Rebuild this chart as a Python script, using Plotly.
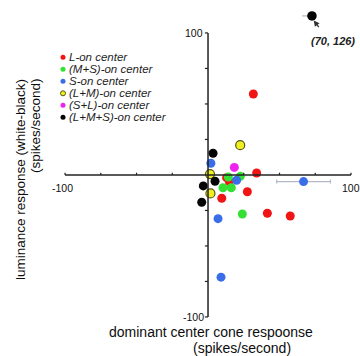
import plotly.graph_objects as go

# ---- data ----
categories = ["L-on center", "(M+S)-on center", "S-on center",
              "(L+M)-on center", "(S+L)-on center", "(L+M+S)-on center"]
colors = ["#f01414", "#33e033", "#3a6ee8", "#f0f020", "#ee22ee", "#050505"]
outlines = [None, None, None, "#55551a", None, None]

l_on_x = [31.7, 34.0, 13.0, 14.9, 27.5, 9.6, 41.5, 57.5]
l_on_y = [57.0, 1.4, -1.9, -4.7, -11.8, -16.4, -27.0, -28.9]
ms_on_x = [14.2, 22.6, 10.5, 16.3, 24.0]
ms_on_y = [-1.5, -1.0, -9.0, -9.0, -27.5]
s_on_x = [2.0, 20.0, 66.8, 7.0, 9.1]
s_on_y = [8.2, -3.7, -4.7, -30.8, -72.0]
s_on_xerr = [0, 0, 18.8, 0, 0]
lm_on_x = [22.5, 1.4, 1.7]
lm_on_y = [21.0, 0.6, -13.0]
sl_on_x = [18.4]
sl_on_y = [5.3]
lms_on_x = [3.5, 4.9, -3.3, -4.4]
lms_on_y = [15.3, -4.4, -7.7, -19.2]

outlier_value = (70, 126)          # true value, shown by label
outlier_shown = (72.7, 112.0)      # where it is drawn (axis break)
outlier_xerr_minus = 7.0

axis_ticks = [-100, -75, -50, -25, 25, 50, 75, 100]
axis_labels = {"x": ["-100", "100"], "y": ["100", "-100"]}

series = [
    (l_on_x, l_on_y, None),
    (ms_on_x, ms_on_y, None),
    (s_on_x, s_on_y, s_on_xerr),
    (lm_on_x, lm_on_y, None),
    (sl_on_x, sl_on_y, None),
    (lms_on_x, lms_on_y, None),
]

FONT = "Liberation Sans, Arial, sans-serif"
AX = "#222222"

fig = go.Figure()

for i, (xs, ys, xerr) in enumerate(series):
    ol = outlines[i]
    kw = {}
    if xerr is not None:
        kw["error_x"] = dict(type="data", array=xerr, visible=True,
                             color="#b4b8c8", thickness=1.2, width=2)
    fig.add_trace(go.Scatter(
        x=xs, y=ys, mode="markers", showlegend=False, cliponaxis=False,
        marker=dict(size=9, color=colors[i],
                    line=dict(width=1.2 if ol else 0, color=ol or colors[i])),
        **kw))

# outlier (drawn above the axis break)
fig.add_trace(go.Scatter(
    x=[outlier_shown[0]], y=[outlier_shown[1]], mode="markers",
    showlegend=False, cliponaxis=False,
    marker=dict(size=9.5, color=colors[5], line=dict(width=0)),
    error_x=dict(type="data", symmetric=False, array=[0],
                 arrayminus=[outlier_xerr_minus], color="#b4b8c8",
                 thickness=1.2, width=0)))

# custom compact legend on an overlay axis in pixel units
leg_x0, leg_y0, leg_dy = 63, 57.3, 12.0
leg_y = [leg_y0 + k * leg_dy for k in range(len(categories))]
for i, cat in enumerate(categories):
    ol = outlines[i]
    fig.add_trace(go.Scatter(
        x=[leg_x0], y=[leg_y[i]], xaxis="x2", yaxis="y2", mode="markers",
        showlegend=False, cliponaxis=False,
        marker=dict(size=5, color=colors[i],
                    line=dict(width=1 if ol else 0, color=ol or colors[i]))))
    fig.add_annotation(x=leg_x0 + 4, y=leg_y[i], xref="x2", yref="y2",
                       text=cat, showarrow=False, xanchor="left",
                       yanchor="middle",
                       font=dict(family=FONT, size=11.5, color="#1e1e1e",
                                 style="italic"))

# axes drawn through the origin
shapes = [
    dict(type="line", xref="x", yref="y", x0=-100, x1=100, y0=0, y1=0,
         line=dict(color=AX, width=1.5)),
    dict(type="line", xref="x", yref="y", x0=0, x1=0, y0=-100, y1=100,
         line=dict(color=AX, width=1.5)),
]
for t in axis_ticks:
    shapes.append(dict(type="line", xref="x", yref="y", x0=t, x1=t,
                       y0=0, y1=1.6, line=dict(color=AX, width=1.2)))
    shapes.append(dict(type="line", xref="x", yref="y", x0=0, x1=-2.2,
                       y0=t, y1=t, line=dict(color=AX, width=1.2)))
fig.update_layout(shapes=shapes)

tick_font = dict(family=FONT, size=10.5, color="#111111")
fig.add_annotation(x=-100, y=0, xref="x", yref="y", text=axis_labels["x"][0],
                   showarrow=False, xanchor="center", yanchor="top",
                   xshift=-3, yshift=-5, font=tick_font)
fig.add_annotation(x=100, y=0, xref="x", yref="y", text=axis_labels["x"][1],
                   showarrow=False, xanchor="center", yanchor="top",
                   xshift=0, yshift=-5, font=tick_font)
fig.add_annotation(x=0, y=100, xref="x", yref="y", text=axis_labels["y"][0],
                   showarrow=False, xanchor="right", yanchor="middle",
                   xshift=-3, font=tick_font)
fig.add_annotation(x=0, y=-100, xref="x", yref="y", text=axis_labels["y"][1],
                   showarrow=False, xanchor="right", yanchor="middle",
                   xshift=-2, font=tick_font)

# outlier label + arrow
fig.add_annotation(x=outlier_shown[0] + 15, y=outlier_shown[1] - 18,
                   xref="x", yref="y",
                   text="(%d, %d)" % outlier_value, showarrow=False,
                   font=dict(family=FONT, size=11, color="#222222",
                             style="italic", weight="bold"))
fig.add_annotation(x=outlier_shown[0] + 1.2, y=outlier_shown[1] - 3.2,
                   ax=outlier_shown[0] + 5.6, ay=outlier_shown[1] - 9.0,
                   xref="x", yref="y", axref="x", ayref="y", text="",
                   showarrow=True, arrowhead=2, arrowsize=0.9,
                   arrowwidth=1.3, arrowcolor="#333333")

# axis titles
title_font = dict(family=FONT, size=14, color="#0d0d0d")
fig.add_annotation(x=211, y=332, xref="x2", yref="y2",
                   text="dominant center cone respoonse", showarrow=False,
                   font=title_font, borderpad=0)
fig.add_annotation(x=242, y=347.5, xref="x2", yref="y2",
                   text="(spikes/second)", showarrow=False, font=title_font,
                   borderpad=0)
ytitle_font = dict(family=FONT, size=13.5, color="#0d0d0d")
fig.add_annotation(x=20, y=180, xref="x2", yref="y2",
                   text="luminance response (white-black)", showarrow=False,
                   textangle=-90, font=ytitle_font, borderpad=0)
fig.add_annotation(x=35, y=126, xref="x2", yref="y2",
                   text="(spikes/second)", showarrow=False,
                   textangle=-90, font=ytitle_font, borderpad=0)

hidden = dict(visible=False, showgrid=False, zeroline=False, fixedrange=True)
fig.update_layout(
    width=360, height=356,
    margin=dict(l=0, r=0, t=0, b=0),
    paper_bgcolor="white", plot_bgcolor="white",
    xaxis=dict(range=[-145.5, 106.3], domain=[0, 1], **hidden),
    yaxis=dict(range=[-127.5, 123.2], domain=[0, 1], **hidden),
    xaxis2=dict(range=[0, 360], overlaying="x", anchor="y2", **hidden),
    yaxis2=dict(range=[356, 0], overlaying="y", anchor="x2", **hidden),
    showlegend=False,
)

fig.write_html("out.html")
